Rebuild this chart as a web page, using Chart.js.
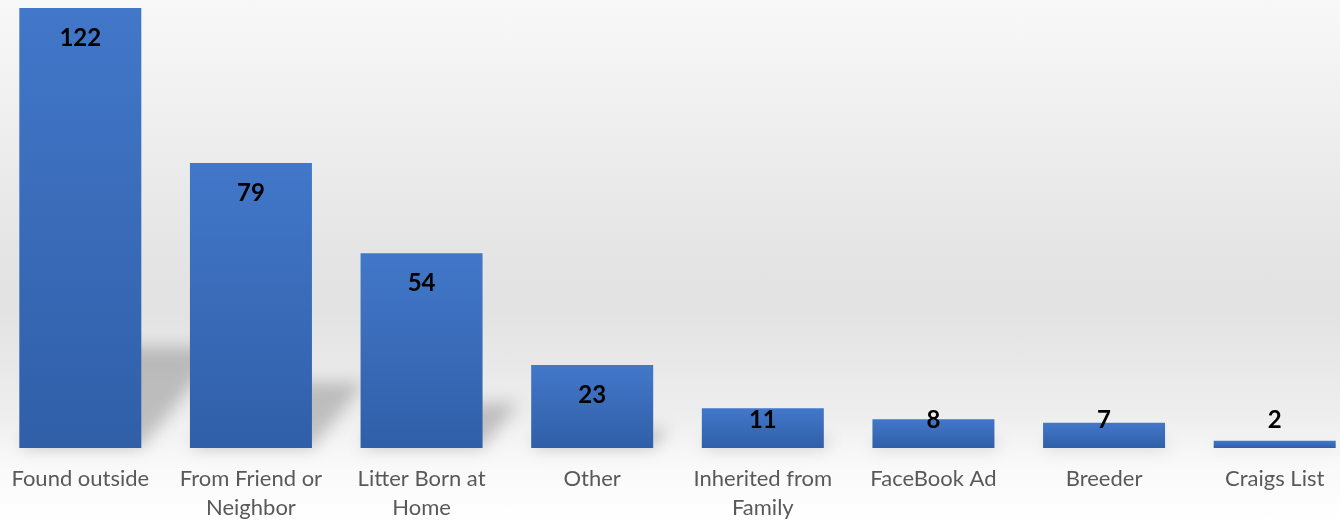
<!DOCTYPE html>
<html>
<head>
<meta charset="utf-8">
<script src="https://cdn.jsdelivr.net/npm/chart.js@4.4.1/dist/chart.umd.min.js"></script>
<style>
    html, body {
        margin: 0;
        padding: 0;
        width: 1340px;
        height: 521px;
        overflow: hidden;
        background: linear-gradient(to bottom, #f8f8f8 0%, #e4e4e4 50%, #e3e3e3 60%, #eeeeee 80%, #f8f8f8 88%, #ffffff 100%);
    }
    #contenedor {
        position: absolute;
        left: -5px;
        top: 0;
        width: 1365px;
        height: 521px;
    }
</style>
</head>
<body>
<div id="contenedor"><canvas id="grafico"></canvas></div>
<script>
// Datos del grafico
const categorias = [
    'Found outside',
    ['From Friend or', 'Neighbor'],
    ['Litter Born at', 'Home'],
    'Other',
    ['Inherited from', 'Family'],
    'FaceBook Ad',
    'Breeder',
    'Craigs List'
];
const cantidades = [122, 79, 54, 23, 11, 8, 7, 2];
const valorMaximo = 122;

const graficoCanvas = document.getElementById('grafico');

// Degradado de cada barra (claro arriba, oscuro abajo)
function colorBarra(contexto) {
    const chart = contexto.chart;
    if (!chart.chartArea) return '#3b6dbd';
    const escalaY = chart.scales.y;
    const arriba = escalaY.getPixelForValue(cantidades[contexto.dataIndex]);
    const base = escalaY.getPixelForValue(0);
    const degradado = chart.ctx.createLinearGradient(0, arriba, 0, base);
    degradado.addColorStop(0, '#4277c9');
    degradado.addColorStop(1, '#305fa8');
    return degradado;
}

// Sombra en perspectiva detras de las barras
const sombraBarras = {
    id: 'sombraBarras',
    beforeDatasetsDraw(chart) {
        const ctx = chart.ctx;
        const barras = chart.getDatasetMeta(0).data;
        ctx.save();
        ctx.filter = 'blur(8px)';
        ctx.fillStyle = 'rgba(0, 0, 0, 0.2)';
        barras.forEach(barra => {
            const alto = barra.base - barra.y;
            const altoSombra = alto * 0.23;
            const desplazamiento = altoSombra * 0.8;
            const izq = barra.x - barra.width / 2;
            const der = barra.x + barra.width / 2;
            ctx.beginPath();
            ctx.moveTo(izq, barra.base);
            ctx.lineTo(der, barra.base);
            ctx.lineTo(der + desplazamiento, barra.base - altoSombra);
            ctx.lineTo(izq + desplazamiento, barra.base - altoSombra);
            ctx.closePath();
            ctx.fill();
        });
        ctx.restore();
    }
};

// Etiquetas con el valor de cada barra
const etiquetasValores = {
    id: 'etiquetasValores',
    afterDatasetsDraw(chart) {
        const ctx = chart.ctx;
        const barras = chart.getDatasetMeta(0).data;
        ctx.save();
        ctx.font = 'bold 24px Lato';
        ctx.fillStyle = '#000000';
        ctx.textAlign = 'center';
        ctx.textBaseline = 'middle';
        barras.forEach((barra, i) => {
            const y = Math.min(barra.y + 30, barra.base - 27.5);
            ctx.fillText(cantidades[i], barra.x, y);
        });
        ctx.restore();
    }
};

new Chart(graficoCanvas.getContext('2d'), {
    type: 'bar',
    data: {
        labels: categorias,
        datasets: [{
            data: cantidades,
            backgroundColor: colorBarra,
            borderWidth: 0,
            categoryPercentage: 1,
            barPercentage: 0.715
        }]
    },
    options: {
        responsive: true,
        maintainAspectRatio: false,
        animation: false,
        layout: {
            padding: { top: 8, left: 0, right: 0, bottom: 0 }
        },
        scales: {
            x: {
                grid: { display: false, drawTicks: false },
                border: { display: false },
                ticks: {
                    color: '#595959',
                    font: { family: 'Lato', size: 22, lineHeight: 1.32 },
                    padding: 16,
                    maxRotation: 0,
                    autoSkip: false
                },
                afterFit: (escala) => {
                    escala.height = 73;
                }
            },
            y: {
                display: false,
                min: 0,
                max: valorMaximo
            }
        },
        plugins: {
            legend: { display: false },
            tooltip: { enabled: false }
        }
    },
    plugins: [sombraBarras, etiquetasValores]
});
</script>
</body>
</html>
